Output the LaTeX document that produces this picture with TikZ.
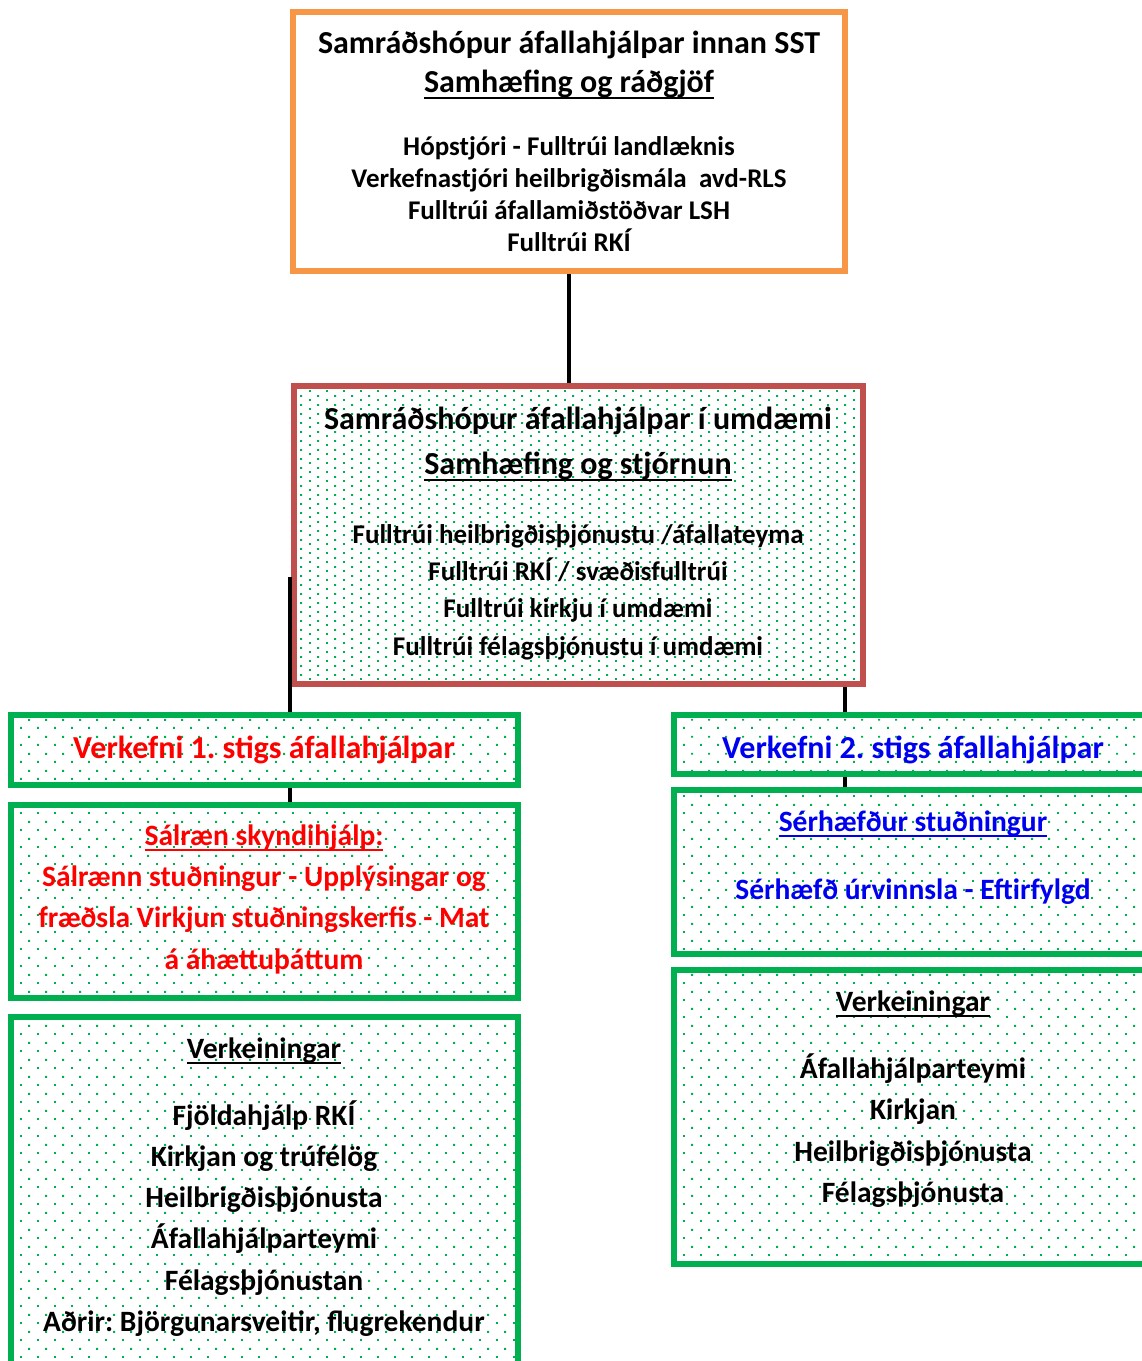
\documentclass[tikz,border=0pt]{standalone}
\usepackage{fontspec}
\setmainfont{Carlito}
\usetikzlibrary{patterns}
\definecolor{orng}{HTML}{F79646}
\definecolor{redb}{HTML}{C0504D}
\definecolor{grn}{HTML}{00B050}
\definecolor{txtred}{HTML}{FF0000}
\definecolor{txtblue}{HTML}{0000F0}
\newcommand{\ulin}[1]{\setbox0\hbox{#1}\rlap{\rule[-0.2em]{\wd0}{0.07em}}\box0}
\pgfdeclarepatternformonly{sparsedots}{\pgfpointorigin}{\pgfpoint{17pt}{17pt}}{\pgfpoint{17pt}{17pt}}{%
  \pgfpathrectangle{\pgfpoint{3.25pt}{3.25pt}}{\pgfpoint{2pt}{2pt}}%
  \pgfpathrectangle{\pgfpoint{11.75pt}{11.75pt}}{\pgfpoint{2pt}{2pt}}%
  \pgfusepath{fill}}
\pgfdeclarepatternformonly{densedots}{\pgfpointorigin}{\pgfpoint{17pt}{8.5pt}}{\pgfpoint{17pt}{8.5pt}}{%
  \pgfpathrectangle{\pgfpoint{3.25pt}{1.1pt}}{\pgfpoint{2pt}{2pt}}%
  \pgfpathrectangle{\pgfpoint{11.75pt}{5.35pt}}{\pgfpoint{2pt}{2pt}}%
  \pgfusepath{fill}}
\frenchspacing
\begin{document}
\begin{tikzpicture}[x=1pt,y=-1pt,
  boxbase/.style={rectangle, inner sep=0pt, line width=6pt},
  obox/.style={boxbase, draw=orng, fill=white},
  rbox/.style={boxbase, draw=redb, pattern=densedots, pattern color=grn},
  gbox/.style={boxbase, draw=grn, pattern=sparsedots, pattern color=grn},
  conn/.style={line width=4pt, black},
  txt/.style={anchor=mid, inner sep=0pt},
  tA/.style={txt, font=\fontsize{32}{38}\selectfont\bfseries},
  tB/.style={txt, font=\fontsize{27}{32}\selectfont\bfseries},
  tC/.style={txt, font=\fontsize{29.5}{35}\selectfont\bfseries}]
\useasboundingbox (0,0) rectangle (1142,1361);
\clip (0,0) rectangle (1142,1361);

% boxes
\node[obox, minimum width=552pt, minimum height=259pt] (top) at (569,141.5) {};
\node[rbox, minimum width=569pt, minimum height=298pt] (mid) at (578.5,535) {};
\node[gbox, minimum width=507pt, minimum height=70pt] (v1) at (264.5,750) {};
\node[gbox, minimum width=507pt, minimum height=193pt] (l2) at (264.5,901.5) {};
\node[gbox, minimum width=507pt, minimum height=370pt] (l3) at (264.5,1202) {};
\node[gbox, minimum width=480pt, minimum height=59pt] (v2) at (914,744.5) {};
\node[gbox, minimum width=480pt, minimum height=164pt] (r2) at (914,872) {};
\node[gbox, minimum width=480pt, minimum height=294pt] (r3) at (914,1117) {};

% connectors
\coordinate (lj) at (290,577);
\coordinate (rx) at (845,0);
\draw[conn] (top.south) -- (top.south |- mid.north);
\draw[conn] (lj) -- (lj |- v1.north);
\draw[conn] (lj |- v1.south) -- (lj |- l2.north);
\draw[conn] (rx |- mid.south) -- (rx |- v2.north);
\draw[conn] (rx |- v2.south) -- (rx |- r2.north);

% top box text
\node[tA] (t1) at (569,51) {Samráðshópur áfallahjálpar innan SST};
\node[tA] (t2) at (569,90) {\ulin{Samhæfing og ráðgjöf}};
\node[tB] (t3) at (569,153) {Hópstjóri - Fulltrúi landlæknis};
\node[tB] (t4) at (569,185) {Verkefnastjóri heilbrigðismála\ \ avd-RLS};
\node[tB] (t5) at (569,217) {Fulltrúi áfallamiðstöðvar LSH};
\node[tB] (t6) at (569,249) {Fulltrúi RKÍ};

% middle box text
\node[tA] (m1) at (578,427) {Samráðshópur áfallahjálpar í umdæmi};
\node[tA] (m2) at (578,472) {\ulin{Samhæfing og stjórnun}};
\node[tB] (m3) at (578,541) {Fulltrúi heilbrigðisþjónustu /áfallateyma};
\node[tB] (m4) at (578,578) {Fulltrúi RKÍ / svæðisfulltrúi};
\node[tB] (m5) at (578,615) {Fulltrúi kirkju í umdæmi};
\node[tB] (m6) at (578,653) {Fulltrúi félagsþjónustu í umdæmi};

% left column
\node[tA, text=txtred] (a1) at (264,756) {Verkefni 1. stigs áfallahjálpar};
\node[tC, text=txtred] (b1) at (264,843) {\ulin{Sálræn skyndihjálp:}};
\node[tC, text=txtred] (b2) at (264,884) {Sálrænn stuðningur - Upplýsingar og};
\node[tC, text=txtred] (b3) at (264,925) {fræðsla Virkjun stuðningskerfis - Mat};
\node[tC, text=txtred] (b4) at (264,967) {á áhættuþáttum};
\node[tC] (c1) at (264,1056) {\ulin{Verkeiningar}};
\node[tC] (c2) at (264,1123) {Fjöldahjálp RKÍ};
\node[tC] (c3) at (264,1164) {Kirkjan og trúfélög};
\node[tC] (c4) at (264,1205) {Heilbrigðisþjónusta};
\node[tC] (c5) at (264,1246) {Áfallahjálparteymi};
\node[tC] (c6) at (264,1288) {Félagsþjónustan};
\node[tC] (c7) at (264,1329) {Aðrir: Björgunarsveitir, flugrekendur};

% right column
\node[tA, text=txtblue] (d1) at (913,756) {Verkefni 2. stigs áfallahjálpar};
\node[tC, text=txtblue] (e1) at (913,829) {\ulin{Sérhæfður stuðningur}};
\node[tC, text=txtblue] (e2) at (913,897) {Sérhæfð úrvinnsla - Eftirfylgd};
\node[tC] (f1) at (913,1009) {\ulin{Verkeiningar}};
\node[tC] (f2) at (913,1076) {Áfallahjálparteymi};
\node[tC] (f3) at (913,1117) {Kirkjan};
\node[tC] (f4) at (913,1159) {Heilbrigðisþjónusta};
\node[tC] (f5) at (913,1200) {Félagsþjónusta};
\end{tikzpicture}
\end{document}
